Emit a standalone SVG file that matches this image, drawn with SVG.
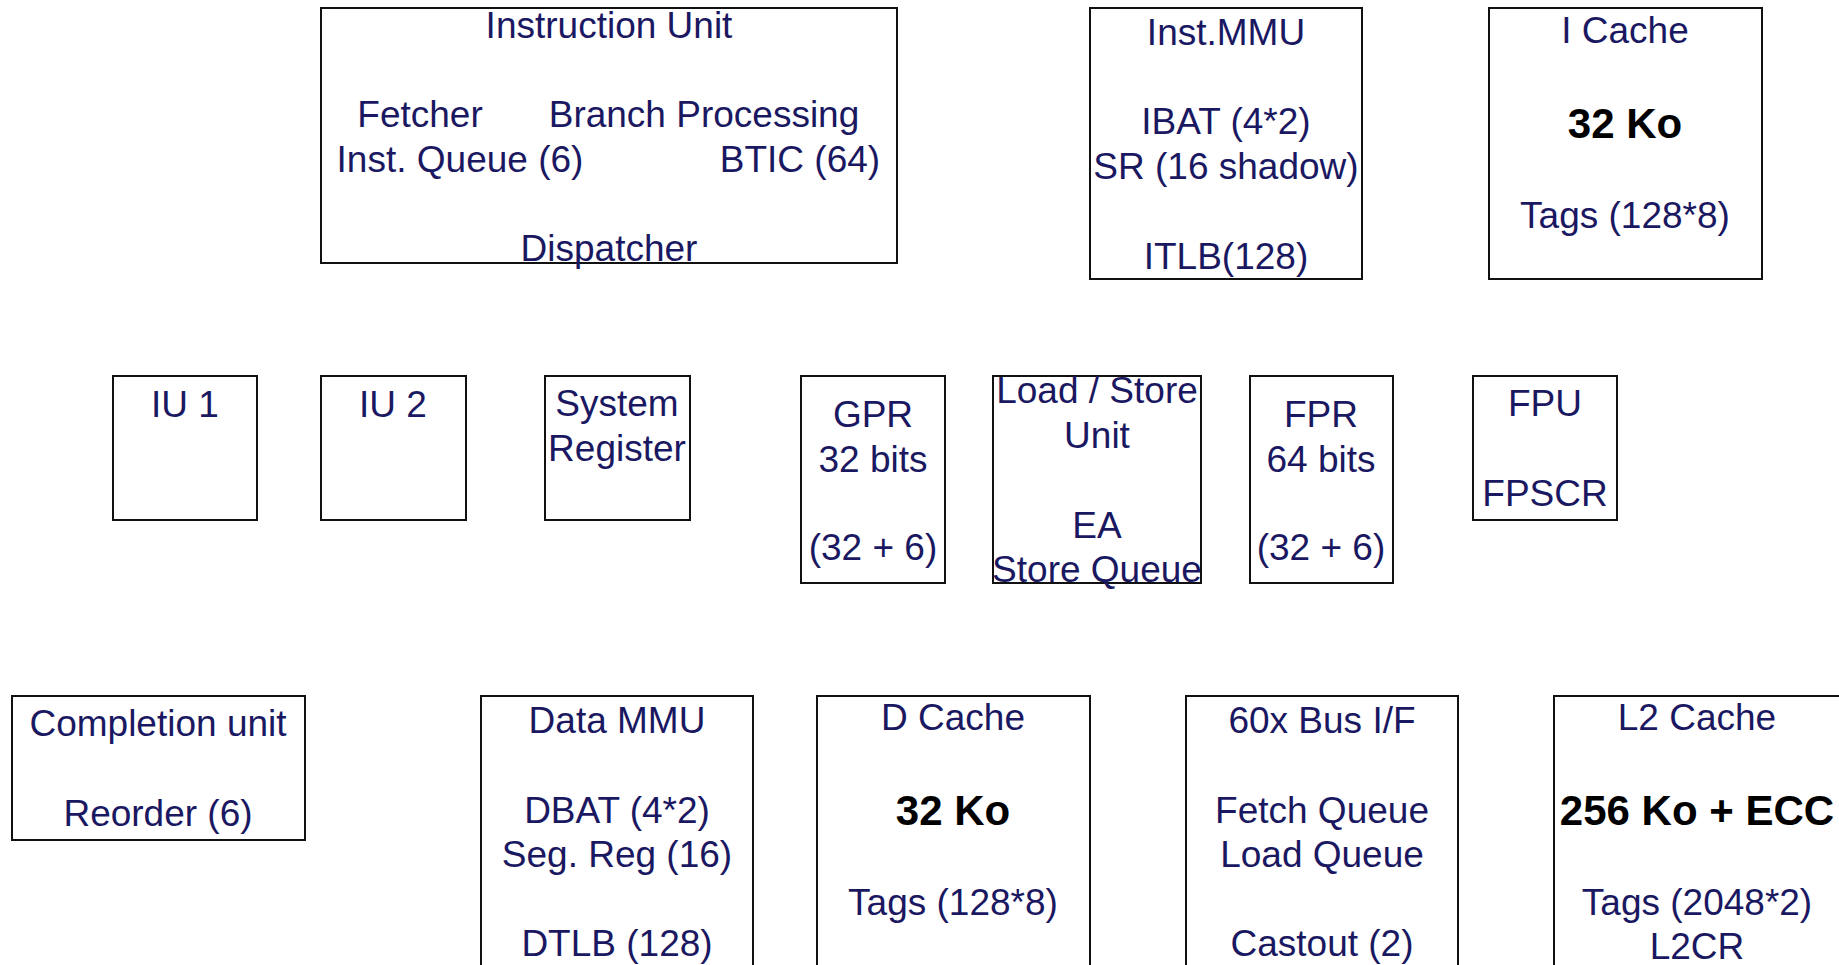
<svg xmlns="http://www.w3.org/2000/svg" width="1839" height="965" viewBox="0 0 1839 965">
<style>
.box{fill:#ffffff;stroke:#111111;stroke-width:2}
.t{font-family:"Liberation Sans",Arial,sans-serif;font-size:37px;fill:#1b1862;text-anchor:middle}
.b{font-family:"Liberation Sans",Arial,sans-serif;font-size:42px;font-weight:bold;fill:#000000;text-anchor:middle}
</style>
<rect width="1839" height="965" fill="#ffffff"/>
<g id="connectors"></g>
<g id="instruction-unit">
<rect class="box" x="321" y="8" width="576" height="255"/>
<text class="t" x="609" y="38">Instruction Unit</text>
<text class="t" x="420" y="127">Fetcher</text>
<text class="t" x="704" y="127">Branch Processing</text>
<text class="t" x="460" y="172">Inst. Queue (6)</text>
<text class="t" x="800" y="172">BTIC (64)</text>
<text class="t" x="609" y="261">Dispatcher</text>
</g>
<g id="inst-mmu">
<rect class="box" x="1090" y="8" width="272" height="271"/>
<text class="t" x="1226" y="45">Inst.MMU</text>
<text class="t" x="1226" y="134">IBAT (4*2)</text>
<text class="t" x="1226" y="179">SR (16 shadow)</text>
<text class="t" x="1226" y="269">ITLB(128)</text>
</g>
<g id="i-cache">
<rect class="box" x="1489" y="8" width="273" height="271"/>
<text class="t" x="1625" y="43">I Cache</text>
<text class="b" x="1625" y="138">32 Ko</text>
<text class="t" x="1625" y="228">Tags (128*8)</text>
</g>
<g id="iu1">
<rect class="box" x="113" y="376" width="144" height="144"/>
<text class="t" x="185" y="417">IU 1</text>
</g>
<g id="iu2">
<rect class="box" x="321" y="376" width="145" height="144"/>
<text class="t" x="393" y="417">IU 2</text>
</g>
<g id="system-register">
<rect class="box" x="545" y="376" width="145" height="144"/>
<text class="t" x="617" y="416">System</text>
<text class="t" x="617" y="461">Register</text>
</g>
<g id="gpr">
<rect class="box" x="801" y="376" width="144" height="207"/>
<text class="t" x="873" y="427">GPR</text>
<text class="t" x="873" y="472">32 bits</text>
<text class="t" x="873" y="560">(32 + 6)</text>
</g>
<g id="load-store">
<rect class="box" x="993" y="376" width="208" height="207"/>
<text class="t" x="1097" y="403">Load / Store</text>
<text class="t" x="1097" y="448">Unit</text>
<text class="t" x="1097" y="538">EA</text>
<text class="t" x="1097" y="582">Store Queue</text>
</g>
<g id="fpr">
<rect class="box" x="1250" y="376" width="143" height="207"/>
<text class="t" x="1321" y="427">FPR</text>
<text class="t" x="1321" y="472">64 bits</text>
<text class="t" x="1321" y="560">(32 + 6)</text>
</g>
<g id="fpu">
<rect class="box" x="1473" y="376" width="144" height="144"/>
<text class="t" x="1545" y="416">FPU</text>
<text class="t" x="1545" y="506">FPSCR</text>
</g>
<g id="completion-unit">
<rect class="box" x="12" y="696" width="293" height="144"/>
<text class="t" x="158" y="736">Completion unit</text>
<text class="t" x="158" y="826">Reorder (6)</text>
</g>
<g id="data-mmu">
<rect class="box" x="481" y="696" width="272" height="300"/>
<text class="t" x="617" y="733">Data MMU</text>
<text class="t" x="617" y="823">DBAT (4*2)</text>
<text class="t" x="617" y="867">Seg. Reg (16)</text>
<text class="t" x="617" y="956">DTLB (128)</text>
</g>
<g id="d-cache">
<rect class="box" x="817" y="696" width="273" height="300"/>
<text class="t" x="953" y="730">D Cache</text>
<text class="b" x="953" y="825">32 Ko</text>
<text class="t" x="953" y="915">Tags (128*8)</text>
</g>
<g id="bus-if">
<rect class="box" x="1186" y="696" width="272" height="300"/>
<text class="t" x="1322" y="733">60x Bus I/F</text>
<text class="t" x="1322" y="823">Fetch Queue</text>
<text class="t" x="1322" y="867">Load Queue</text>
<text class="t" x="1322" y="956">Castout (2)</text>
</g>
<g id="l2-cache">
<rect class="box" x="1554" y="696" width="300" height="300"/>
<text class="t" x="1697" y="730">L2 Cache</text>
<text class="b" x="1697" y="825">256 Ko + ECC</text>
<text class="t" x="1697" y="915">Tags (2048*2)</text>
<text class="t" x="1697" y="959">L2CR</text>
</g>
</svg>
